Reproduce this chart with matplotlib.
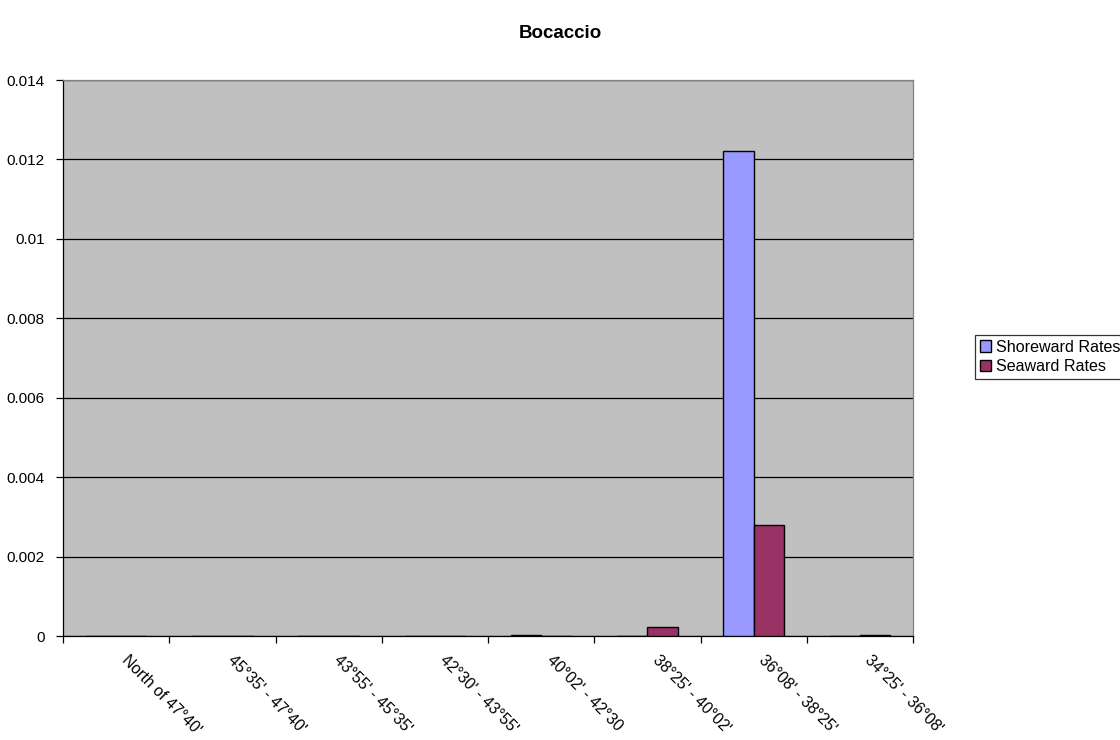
import matplotlib
matplotlib.use("Agg")
import matplotlib.pyplot as plt
import matplotlib.transforms as mtransforms
import numpy as np
from matplotlib.ticker import FuncFormatter
from matplotlib.patches import Patch

plt.rcParams['font.family'] = ['Liberation Sans', 'DejaVu Sans']

regions = ["North of 47°40'", "45°35' - 47°40'", "43°55' - 45°35'", "42°30' - 43°55'",
           "40°02' - 42°30", "38°25' - 40°02'", "36°08' - 38°25'", "34°25' - 36°08'"]
shoreward = [0, 0, 0, 0, 0.00002, 0, 0.01222, 0]
seaward = [0, 0, 0, 0, 0, 0.00023, 0.0028, 0.00002]
yticks = [0, 0.002, 0.004, 0.006, 0.008, 0.01, 0.012, 0.014]

fig = plt.figure(figsize=(11.2, 7.4), dpi=100)
ax = fig.add_axes([63/1120, 1 - 636/740, 850/1120, 556/740])
ax.set_facecolor('#C0C0C0')

x = np.arange(len(regions))
w = 1 / 3.5
ax.bar(x - w/2, shoreward, w, color='#9999FF', edgecolor='black', linewidth=1, zorder=3)
ax.bar(x + w/2, seaward, w, color='#993366', edgecolor='black', linewidth=1, zorder=3)

ax.set_xlim(-0.5, len(regions) - 0.5)
ax.set_ylim(0, 0.014)
ax.set_yticks(yticks)
ax.yaxis.set_major_formatter(FuncFormatter(lambda v, p: '%g' % round(v, 4)))
ax.yaxis.grid(True, color='black', linewidth=0.9, zorder=1)
ax.set_axisbelow(True)

ax.set_xticks(np.arange(len(regions) + 1) - 0.5)
ax.set_xticklabels([])
ax.set_xticks(x, minor=True)
ax.set_xticklabels(regions, minor=True, rotation=-45, ha='left', va='top',
                   rotation_mode='anchor', fontsize=11.3)
ax.tick_params(axis='x', which='minor', length=0, pad=12)
ax.tick_params(axis='x', which='major', length=5, width=0.9, direction='out')
ax.tick_params(axis='y', length=5, width=0.9, direction='out', labelsize=11, pad=8)

shift = mtransforms.ScaledTranslation(13/100, 0, fig.dpi_scale_trans)
for lbl in ax.get_xticklabels(minor=True):
    lbl.set_transform(lbl.get_transform() + shift)

for s in ['top', 'right']:
    ax.spines[s].set_color('#808080')
    ax.spines[s].set_linewidth(0.9)
for s in ['left', 'bottom']:
    ax.spines[s].set_color('black')
    ax.spines[s].set_linewidth(0.9)

fig.text(0.5, 1 - 33/740, 'Bocaccio', ha='center', va='center', fontsize=13.5, fontweight='bold')

handles = [Patch(facecolor='#9999FF', edgecolor='black', label='Shoreward Rates'),
           Patch(facecolor='#993366', edgecolor='black', label='Seaward Rates')]
leg = fig.legend(handles=handles, loc='center left', bbox_to_anchor=(975/1120, 1 - 357/740),
                 fontsize=11.6, frameon=True, fancybox=False, handlelength=0.7,
                 handleheight=0.7, handletextpad=0.3, borderpad=0.3, labelspacing=0.3,
                 borderaxespad=0)
leg.get_frame().set_edgecolor('black')
leg.get_frame().set_linewidth(0.9)

fig.savefig('out.png', dpi=100)
